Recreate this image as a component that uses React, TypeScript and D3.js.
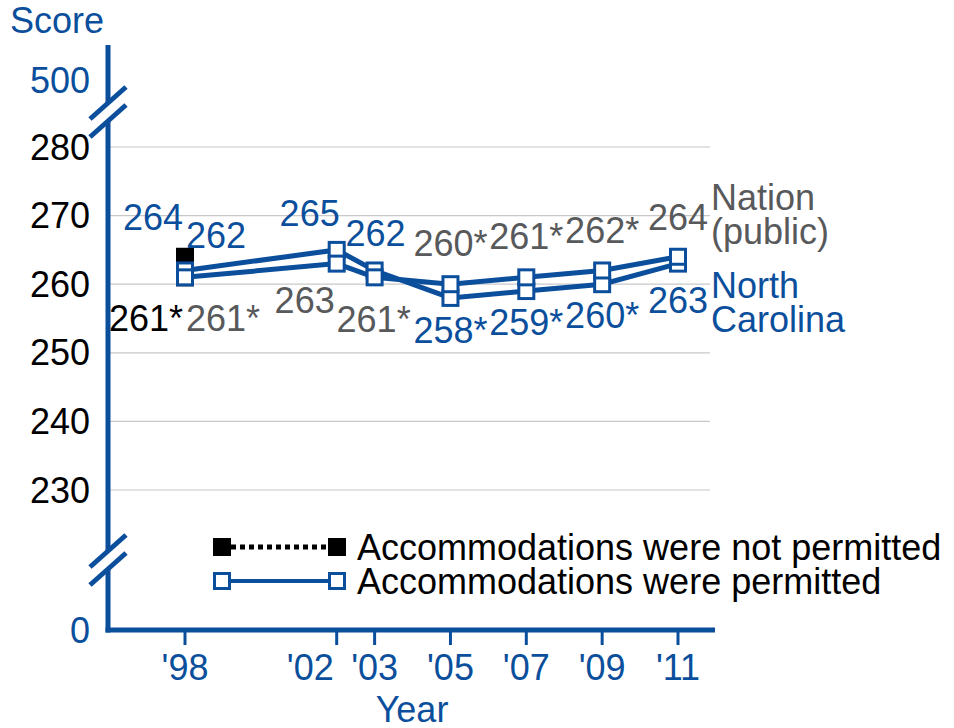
import React from 'react';
import * as d3 from 'd3';

const years = [1998, 2002, 2003, 2005, 2007, 2009, 2011];
const yearLabels = ["'98", "'02", "'03", "'05", "'07", "'09", "'11"];
const ncPermitted = [262, 265, 262, 258, 259, 260, 263];
const ncSignificant = [false, false, false, true, true, true, false];
const nationPermitted = [261, 263, 261, 260, 261, 262, 264];
const nationSignificant = [true, false, true, true, true, true, false];
const notPermittedYears = [1998];
const ncNotPermitted = [264];
const ncNotPermittedSig = [false];
const nationNotPermitted = [261];
const nationNotPermittedSig = [true];
const yTicks = [230, 240, 250, 260, 270, 280];
const legendLabels = ['Accommodations were not permitted', 'Accommodations were permitted'];

// label placement (style): [anchor, dx, dy]
type P = [string, number, number];
const ncPlace: P[] = [
  ['start', 1, -22], ['end', 3, -24], ['middle', 1, -24],
  ['middle', 0, 45], ['middle', 0, 44], ['middle', 0, 44], ['middle', 0, 49],
];
const nationPlace: P[] = [
  ['start', 1, 54], ['end', -2, 49], ['middle', -1, 55],
  ['middle', 0, -28], ['middle', 0, -28], ['middle', 0, -27], ['middle', 0, -27],
];
const ncNPPlace: P = ['end', -2, -27];
const nationNPPlace: P = ['end', -2, 54];
// x tick label placement: [anchor, dx]
const xLabelPlace: [string, number][] = [
  ['middle', 0], ['end', -3], ['middle', 0], ['middle', 0], ['middle', 0], ['middle', 0], ['middle', 0],
];

const BLUE = '#0b4f9c';
const GRAY = '#58595b';
const FONT = 'Liberation Sans, Arial, sans-serif';
const FS = 36;

export default function App() {
  const x = d3.scaleLinear().domain([1998, 2011]).range([185, 678]);
  const y = d3.scaleLinear().domain([230, 280]).range([490, 147]);
  const axisX = 108;
  const axisY = 630;
  const yTop = 80; // position of 500
  const line = d3
    .line<number>()
    .x((_, i) => x(years[i]))
    .y((d) => y(d));
  const S = 15;

  const sq = (cx: number, cy: number, fill: string, stroke: string, key: string) => (
    <rect key={key} x={cx - S / 2} y={cy - S / 2} width={S} height={S} fill={fill} stroke={stroke} strokeWidth={3} />
  );

  const lbl = (val: number, sig: boolean, px: number, py: number, p: P, color: string, key: string) => (
    <text key={key} x={px + p[1]} y={py + p[2]} textAnchor={p[0] as any} fill={color} fontSize={FS} fontFamily={FONT}>
      {val + (sig ? '*' : '')}
    </text>
  );

  const breakMark = (cy: number, key: string) => {
    const dx = 18, dy = -16, g = 9;
    return (
      <g key={key}>
        <polygon
          points={`${axisX - dx},${cy - dy - g} ${axisX + dx},${cy + dy - g} ${axisX + dx},${cy + dy + g} ${axisX - dx},${cy - dy + g}`}
          fill="#fff"
        />
        <line x1={axisX - dx} y1={cy - dy - g} x2={axisX + dx} y2={cy + dy - g} stroke={BLUE} strokeWidth={5} />
        <line x1={axisX - dx} y1={cy - dy + g} x2={axisX + dx} y2={cy + dy + g} stroke={BLUE} strokeWidth={5} />
      </g>
    );
  };

  return (
    <svg width={954} height={728} style={{ position: 'absolute', left: 0, top: 0, background: '#fff' }}>
      {/* gridlines */}
      {yTicks.map((t) => (
        <line key={'g' + t} x1={axisX} x2={710} y1={y(t)} y2={y(t)} stroke="#c8c8c8" strokeWidth={1.2} />
      ))}
      {/* y tick labels */}
      {yTicks.map((t) => (
        <text key={'yt' + t} x={90} y={y(t)} dy="0.35em" textAnchor="end" fontSize={FS} fontFamily={FONT} fill="#000">
          {t}
        </text>
      ))}
      <text x={90} y={yTop} dy="0.35em" textAnchor="end" fontSize={FS} fontFamily={FONT} fill={BLUE}>500</text>
      <text x={90} y={axisY} dy="0.35em" textAnchor="end" fontSize={FS} fontFamily={FONT} fill={BLUE}>0</text>
      <text x={10} y={33} fontSize={FS} fontFamily={FONT} fill={BLUE}>Score</text>

      {/* axes */}
      <line x1={axisX} x2={axisX} y1={45} y2={axisY + 2.5} stroke={BLUE} strokeWidth={5} />
      <line x1={axisX - 2.5} x2={715} y1={axisY} y2={axisY} stroke={BLUE} strokeWidth={5} />
      {years.map((yr, i) => (
        <g key={'xt' + yr}>
          <line x1={x(yr)} x2={x(yr)} y1={axisY} y2={axisY + 15} stroke={BLUE} strokeWidth={3} />
          <text x={x(yr) + xLabelPlace[i][1]} y={680} textAnchor={xLabelPlace[i][0] as any} fontSize={FS} fontFamily={FONT} fill={BLUE}>
            {yearLabels[i]}
          </text>
        </g>
      ))}
      <text x={412} y={722} textAnchor="middle" fontSize={FS} fontFamily={FONT} fill={BLUE}>Year</text>
      {breakMark(112, 'b1')}
      {breakMark(560, 'b2')}

      {/* lines */}
      <path d={line(nationPermitted) || ''} fill="none" stroke={BLUE} strokeWidth={5} />
      <path d={line(ncPermitted) || ''} fill="none" stroke={BLUE} strokeWidth={5} />

      {/* not permitted markers */}
      {notPermittedYears.map((yr, i) => sq(x(yr), y(ncNotPermitted[i]), '#000', '#000', 'ncnp' + i))}
      {notPermittedYears.map((yr, i) => sq(x(yr), y(nationNotPermitted[i]), '#000', '#000', 'nnp' + i))}
      {/* permitted markers */}
      {years.map((yr, i) => sq(x(yr), y(ncPermitted[i]), '#fff', BLUE, 'ncp' + i))}
      {years.map((yr, i) => sq(x(yr), y(nationPermitted[i]), '#fff', BLUE, 'np' + i))}

      {/* data labels */}
      {notPermittedYears.map((yr, i) => lbl(ncNotPermitted[i], ncNotPermittedSig[i], x(yr), y(ncNotPermitted[i]), ncNPPlace, BLUE, 'lncnp' + i))}
      {notPermittedYears.map((yr, i) => lbl(nationNotPermitted[i], nationNotPermittedSig[i], x(yr), y(nationNotPermitted[i]), nationNPPlace, '#000', 'lnnp' + i))}
      {years.map((yr, i) => lbl(ncPermitted[i], ncSignificant[i], x(yr), y(ncPermitted[i]), ncPlace[i], BLUE, 'lnc' + i))}
      {years.map((yr, i) => lbl(nationPermitted[i], nationSignificant[i], x(yr), y(nationPermitted[i]), nationPlace[i], GRAY, 'ln' + i))}

      {/* series labels */}
      <text x={711} y={y(nationPermitted[6]) - 47} fontSize={FS} fontFamily={FONT} fill={GRAY}>
        <tspan x={711}>Nation</tspan>
        <tspan x={711} dy={34}>(public)</tspan>
      </text>
      <text x={711} y={y(ncPermitted[6]) + 34} fontSize={FS} fontFamily={FONT} fill={BLUE}>
        <tspan x={711}>North</tspan>
        <tspan x={711} dy={34}>Carolina</tspan>
      </text>

      {/* legend */}
      <line x1={222} x2={337} y1={547} y2={547} stroke="#000" strokeWidth={5} strokeDasharray="5,4" />
      <rect x={213} y={538} width={18} height={18} fill="#000" />
      <rect x={328} y={538} width={18} height={18} fill="#000" />
      <text x={357} y={547} dy="0.35em" fontSize={FS} fontFamily={FONT} fill="#000">{legendLabels[0]}</text>
      <line x1={222} x2={337} y1={581} y2={581} stroke={BLUE} strokeWidth={4} />
      {sq(222, 581, '#fff', BLUE, 'lg1')}
      {sq(337, 581, '#fff', BLUE, 'lg2')}
      <text x={357} y={581} dy="0.35em" fontSize={FS} fontFamily={FONT} fill="#000">{legendLabels[1]}</text>
    </svg>
  );
}
